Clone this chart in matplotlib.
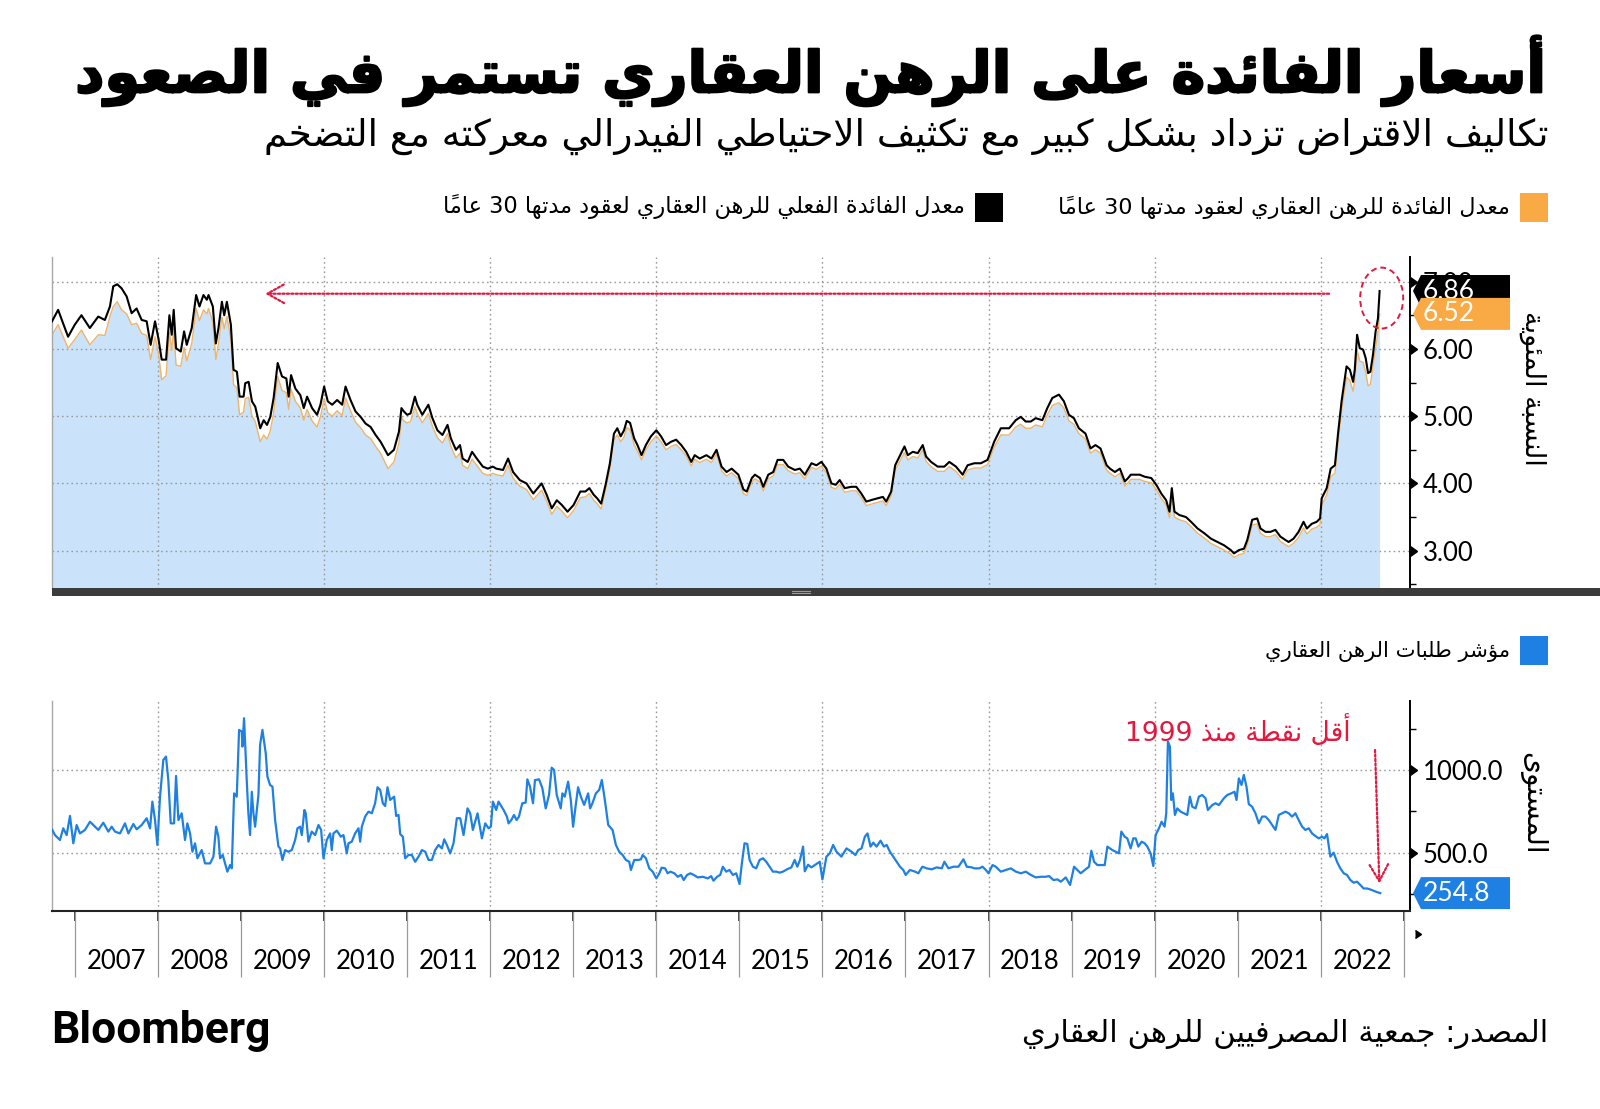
import matplotlib
matplotlib.use('Agg')
import matplotlib.pyplot as plt
import matplotlib.transforms as mtransforms
import matplotlib.patheffects as pe
from matplotlib.patches import Polygon, Rectangle, Ellipse
from matplotlib.ticker import FixedLocator, FormatStrFormatter

# ---------------- data ----------------
# MBA 30-year fixed mortgage rates, decimal year
rate_years = [
    2006.724, 2006.797, 2006.917, 2006.998, 2007.078, 2007.179, 2007.280, 2007.360, 2007.421, 2007.461,
    2007.509, 2007.561, 2007.622, 2007.682, 2007.742, 2007.803, 2007.863, 2007.911, 2007.964, 2008.004,
    2008.044, 2008.097, 2008.137, 2008.165, 2008.189, 2008.217, 2008.274, 2008.314, 2008.346, 2008.406,
    2008.459, 2008.499, 2008.547, 2008.588, 2008.608, 2008.660, 2008.696, 2008.728, 2008.769, 2008.797,
    2008.829, 2008.877, 2008.909, 2008.950, 2008.982, 2009.030, 2009.050, 2009.091, 2009.131, 2009.171,
    2009.231, 2009.272, 2009.312, 2009.352, 2009.392, 2009.441, 2009.493, 2009.545, 2009.573, 2009.602,
    2009.654, 2009.714, 2009.755, 2009.795, 2009.855, 2009.915, 2009.956, 2010.000, 2010.044, 2010.097,
    2010.157, 2010.217, 2010.258, 2010.318, 2010.378, 2010.439, 2010.499, 2010.559, 2010.620, 2010.680,
    2010.769, 2010.841, 2010.901, 2010.931, 2010.960, 2011.000, 2011.040, 2011.093, 2011.121, 2011.182,
    2011.255, 2011.304, 2011.364, 2011.425, 2011.486, 2011.526, 2011.587, 2011.636, 2011.668, 2011.729,
    2011.781, 2011.838, 2011.911, 2011.972, 2012.032, 2012.073, 2012.154, 2012.215, 2012.275, 2012.356,
    2012.437, 2012.518, 2012.619, 2012.680, 2012.741, 2012.802, 2012.862, 2012.931, 2013.004, 2013.085,
    2013.146, 2013.194, 2013.247, 2013.287, 2013.336, 2013.389, 2013.441, 2013.490, 2013.530, 2013.571,
    2013.611, 2013.644, 2013.684, 2013.733, 2013.773, 2013.822, 2013.874, 2013.935, 2014.000, 2014.057,
    2014.117, 2014.178, 2014.239, 2014.300, 2014.360, 2014.421, 2014.462, 2014.522, 2014.603, 2014.664,
    2014.725, 2014.785, 2014.846, 2014.907, 2014.988, 2015.049, 2015.089, 2015.150, 2015.188, 2015.248,
    2015.288, 2015.348, 2015.408, 2015.460, 2015.528, 2015.588, 2015.668, 2015.728, 2015.788, 2015.868,
    2015.928, 2015.988, 2016.048, 2016.108, 2016.160, 2016.208, 2016.268, 2016.348, 2016.408, 2016.468,
    2016.528, 2016.608, 2016.668, 2016.728, 2016.768, 2016.828, 2016.876, 2016.928, 2016.988, 2017.028,
    2017.088, 2017.148, 2017.208, 2017.248, 2017.308, 2017.388, 2017.468, 2017.528, 2017.608, 2017.688,
    2017.748, 2017.828, 2017.908, 2017.988, 2018.068, 2018.148, 2018.248, 2018.328, 2018.388, 2018.448,
    2018.508, 2018.568, 2018.648, 2018.708, 2018.768, 2018.848, 2018.908, 2018.968, 2019.028, 2019.088,
    2019.168, 2019.228, 2019.288, 2019.348, 2019.422, 2019.462, 2019.522, 2019.582, 2019.641, 2019.681,
    2019.713, 2019.761, 2019.821, 2019.880, 2019.960, 2020.020, 2020.080, 2020.139, 2020.179, 2020.207,
    2020.239, 2020.299, 2020.378, 2020.438, 2020.518, 2020.598, 2020.677, 2020.757, 2020.837, 2020.916,
    2020.956, 2021.016, 2021.076, 2021.116, 2021.175, 2021.235, 2021.275, 2021.335, 2021.394, 2021.454,
    2021.514, 2021.574, 2021.614, 2021.673, 2021.733, 2021.793, 2021.833, 2021.892, 2021.952, 2021.992,
    2022.012, 2022.072, 2022.120, 2022.171, 2022.211, 2022.251, 2022.311, 2022.351, 2022.390, 2022.410,
    2022.438, 2022.470, 2022.510, 2022.542, 2022.570, 2022.598, 2022.629, 2022.661, 2022.689, 2022.709,
]
rate_effective = [
    6.41, 6.58, 6.18, 6.36, 6.50, 6.31, 6.48, 6.43, 6.63, 6.93,
    6.96, 6.90, 6.78, 6.53, 6.60, 6.43, 6.41, 6.06, 6.41, 6.16,
    5.84, 5.84, 6.50, 6.21, 6.58, 6.01, 5.96, 6.26, 6.06, 6.31,
    6.80, 6.63, 6.80, 6.73, 6.80, 6.63, 6.08, 6.31, 6.70, 6.50,
    6.70, 6.36, 5.69, 5.66, 5.29, 5.29, 5.49, 5.51, 5.22, 5.14,
    4.82, 4.94, 4.87, 4.99, 5.27, 5.79, 5.59, 5.56, 5.29, 5.61,
    5.41, 5.31, 5.12, 5.29, 5.12, 5.02, 5.17, 5.44, 5.22, 5.17,
    5.24, 5.17, 5.44, 5.24, 5.07, 4.99, 4.89, 4.84, 4.72, 4.62,
    4.42, 4.50, 4.77, 5.12, 5.07, 5.02, 5.04, 5.29, 5.17, 5.02,
    5.17, 4.97, 4.79, 4.72, 4.87, 4.67, 4.50, 4.57, 4.37, 4.32,
    4.47, 4.37, 4.25, 4.22, 4.25, 4.22, 4.20, 4.37, 4.17, 4.05,
    4.00, 3.85, 4.00, 3.83, 3.63, 3.75, 3.68, 3.58, 3.68, 3.88,
    3.88, 3.93, 3.83, 3.78, 3.70, 3.98, 4.30, 4.74, 4.82, 4.70,
    4.79, 4.93, 4.90, 4.67, 4.57, 4.42, 4.57, 4.70, 4.79, 4.70,
    4.57, 4.62, 4.65, 4.57, 4.47, 4.32, 4.42, 4.37, 4.42, 4.37,
    4.50, 4.25, 4.17, 4.22, 4.13, 3.91, 3.88, 4.08, 4.13, 4.08,
    3.95, 4.13, 4.17, 4.35, 4.35, 4.25, 4.20, 4.22, 4.13, 4.30,
    4.27, 4.32, 4.22, 4.00, 3.98, 4.05, 3.93, 3.95, 3.95, 3.85,
    3.73, 3.76, 3.78, 3.80, 3.73, 3.88, 4.27, 4.40, 4.55, 4.42,
    4.47, 4.45, 4.57, 4.40, 4.32, 4.25, 4.25, 4.32, 4.25, 4.13,
    4.27, 4.30, 4.30, 4.35, 4.62, 4.82, 4.82, 4.94, 4.99, 4.92,
    4.92, 4.97, 4.94, 5.12, 5.27, 5.32, 5.22, 5.02, 4.97, 4.82,
    4.74, 4.52, 4.57, 4.52, 4.27, 4.22, 4.17, 4.22, 4.03, 4.08,
    4.13, 4.13, 4.13, 4.10, 4.08, 3.98, 3.85, 3.75, 3.58, 3.93,
    3.58, 3.53, 3.50, 3.43, 3.33, 3.26, 3.18, 3.13, 3.08, 3.01,
    2.96, 3.01, 3.03, 3.16, 3.46, 3.48, 3.33, 3.28, 3.28, 3.31,
    3.21, 3.16, 3.13, 3.18, 3.28, 3.43, 3.33, 3.40, 3.43, 3.48,
    3.78, 3.93, 4.22, 4.27, 4.77, 5.22, 5.74, 5.69, 5.51, 5.69,
    6.21, 6.01, 5.99, 5.86, 5.64, 5.66, 5.91, 6.26, 6.45, 6.86,
]
rate_contract = [
    6.21, 6.36, 6.01, 6.14, 6.28, 6.06, 6.21, 6.20, 6.48, 6.63,
    6.70, 6.58, 6.52, 6.36, 6.38, 6.23, 6.20, 5.84, 6.18, 5.95,
    5.54, 5.60, 6.25, 5.98, 6.30, 5.76, 5.74, 6.02, 5.82, 6.08,
    6.60, 6.42, 6.58, 6.52, 6.60, 6.40, 5.84, 6.08, 6.47, 6.30,
    6.48, 6.15, 5.47, 5.42, 5.02, 5.06, 5.26, 5.28, 5.00, 4.92,
    4.62, 4.72, 4.66, 4.78, 5.05, 5.59, 5.38, 5.35, 5.10, 5.40,
    5.22, 5.12, 4.94, 5.10, 4.93, 4.84, 4.99, 5.26, 5.05, 5.00,
    5.08, 5.01, 5.27, 5.08, 4.91, 4.83, 4.72, 4.67, 4.55, 4.45,
    4.22, 4.32, 4.60, 4.98, 4.93, 4.90, 4.92, 5.14, 5.04, 4.90,
    5.04, 4.85, 4.68, 4.60, 4.74, 4.55, 4.38, 4.45, 4.27, 4.22,
    4.36, 4.27, 4.15, 4.12, 4.15, 4.13, 4.11, 4.27, 4.08, 3.96,
    3.91, 3.76, 3.90, 3.74, 3.54, 3.66, 3.59, 3.49, 3.60, 3.79,
    3.80, 3.85, 3.75, 3.70, 3.62, 3.90, 4.22, 4.65, 4.72, 4.62,
    4.69, 4.83, 4.80, 4.58, 4.48, 4.35, 4.50, 4.62, 4.71, 4.62,
    4.50, 4.55, 4.58, 4.50, 4.41, 4.26, 4.36, 4.31, 4.36, 4.31,
    4.44, 4.19, 4.11, 4.16, 4.07, 3.85, 3.82, 4.02, 4.07, 4.02,
    3.89, 4.07, 4.11, 4.28, 4.28, 4.19, 4.14, 4.16, 4.07, 4.24,
    4.21, 4.26, 4.16, 3.94, 3.92, 3.99, 3.87, 3.89, 3.89, 3.79,
    3.67, 3.70, 3.72, 3.74, 3.67, 3.82, 4.20, 4.32, 4.46, 4.35,
    4.40, 4.38, 4.50, 4.33, 4.25, 4.18, 4.18, 4.25, 4.18, 4.06,
    4.20, 4.23, 4.23, 4.28, 4.54, 4.72, 4.72, 4.84, 4.88, 4.82,
    4.82, 4.87, 4.84, 5.02, 5.16, 5.20, 5.12, 4.93, 4.88, 4.74,
    4.66, 4.45, 4.50, 4.45, 4.20, 4.15, 4.10, 4.15, 3.96, 4.01,
    4.06, 4.06, 4.06, 4.03, 4.01, 3.91, 3.78, 3.68, 3.49, 3.82,
    3.50, 3.46, 3.43, 3.36, 3.26, 3.19, 3.11, 3.06, 3.01, 2.95,
    2.90, 2.94, 2.96, 3.09, 3.38, 3.40, 3.26, 3.21, 3.21, 3.24,
    3.14, 3.09, 3.06, 3.11, 3.20, 3.34, 3.25, 3.32, 3.35, 3.39,
    3.68, 3.83, 4.10, 4.15, 4.63, 5.08, 5.58, 5.53, 5.37, 5.53,
    5.98, 5.82, 5.80, 5.65, 5.45, 5.47, 5.74, 6.02, 6.25, 6.52,
]

# MBA mortgage applications composite index
app_years = [
    2006.727, 2006.759, 2006.819, 2006.859, 2006.900, 2006.940, 2006.980, 2007.020, 2007.060, 2007.120,
    2007.181, 2007.241, 2007.281, 2007.341, 2007.402, 2007.442, 2007.482, 2007.542, 2007.602, 2007.643,
    2007.703, 2007.743, 2007.803, 2007.863, 2007.904, 2007.932, 2007.964, 2007.992, 2008.024, 2008.064,
    2008.096, 2008.124, 2008.153, 2008.193, 2008.217, 2008.245, 2008.285, 2008.325, 2008.353, 2008.386,
    2008.414, 2008.446, 2008.474, 2008.526, 2008.566, 2008.627, 2008.667, 2008.699, 2008.727, 2008.747,
    2008.779, 2008.807, 2008.835, 2008.867, 2008.888, 2008.916, 2008.948, 2008.976, 2009.008, 2009.016,
    2009.036, 2009.068, 2009.088, 2009.108, 2009.129, 2009.149, 2009.169, 2009.209, 2009.229, 2009.257,
    2009.277, 2009.297, 2009.317, 2009.349, 2009.378, 2009.410, 2009.450, 2009.470, 2009.498, 2009.530,
    2009.570, 2009.610, 2009.651, 2009.679, 2009.711, 2009.731, 2009.763, 2009.779, 2009.811, 2009.851,
    2009.892, 2009.932, 2009.964, 2009.992, 2010.032, 2010.072, 2010.092, 2010.112, 2010.153, 2010.201,
    2010.233, 2010.273, 2010.293, 2010.333, 2010.373, 2010.414, 2010.434, 2010.454, 2010.494, 2010.534,
    2010.574, 2010.614, 2010.643, 2010.675, 2010.707, 2010.735, 2010.763, 2010.795, 2010.843, 2010.867,
    2010.896, 2010.916, 2010.948, 2010.976, 2011.016, 2011.056, 2011.096, 2011.137, 2011.177, 2011.217,
    2011.257, 2011.297, 2011.337, 2011.378, 2011.418, 2011.446, 2011.478, 2011.518, 2011.558, 2011.598,
    2011.639, 2011.679, 2011.727, 2011.759, 2011.791, 2011.847, 2011.900, 2011.940, 2011.980, 2012.008,
    2012.032, 2012.072, 2012.100, 2012.161, 2012.201, 2012.221, 2012.254, 2012.286, 2012.318, 2012.346,
    2012.386, 2012.427, 2012.447, 2012.479, 2012.515, 2012.539, 2012.588, 2012.628, 2012.668, 2012.708,
    2012.740, 2012.769, 2012.801, 2012.849, 2012.869, 2012.897, 2012.938, 2012.970, 2012.998, 2013.030,
    2013.058, 2013.091, 2013.131, 2013.179, 2013.203, 2013.231, 2013.272, 2013.312, 2013.344, 2013.380,
    2013.421, 2013.473, 2013.513, 2013.553, 2013.594, 2013.634, 2013.674, 2013.694, 2013.734, 2013.783,
    2013.815, 2013.835, 2013.875, 2013.915, 2013.956, 2014.000, 2014.036, 2014.064, 2014.105, 2014.137,
    2014.169, 2014.217, 2014.258, 2014.298, 2014.330, 2014.370, 2014.410, 2014.451, 2014.499, 2014.559,
    2014.620, 2014.660, 2014.688, 2014.732, 2014.769, 2014.801, 2014.841, 2014.881, 2014.922, 2014.962,
    2015.002, 2015.030, 2015.062, 2015.095, 2015.123, 2015.163, 2015.203, 2015.243, 2015.284, 2015.324,
    2015.364, 2015.404, 2015.445, 2015.485, 2015.525, 2015.573, 2015.626, 2015.666, 2015.698, 2015.730,
    2015.767, 2015.787, 2015.827, 2015.867, 2015.915, 2015.968, 2016.000, 2016.048, 2016.089, 2016.129,
    2016.169, 2016.229, 2016.290, 2016.350, 2016.398, 2016.431, 2016.471, 2016.511, 2016.543, 2016.579,
    2016.612, 2016.652, 2016.700, 2016.740, 2016.773, 2016.813, 2016.853, 2016.893, 2016.934, 2016.974,
    2017.002, 2017.054, 2017.115, 2017.155, 2017.203, 2017.256, 2017.316, 2017.376, 2017.437, 2017.469,
    2017.517, 2017.577, 2017.638, 2017.698, 2017.738, 2017.799, 2017.828, 2017.888, 2017.928, 2017.968,
    2018.000, 2018.048, 2018.088, 2018.148, 2018.208, 2018.269, 2018.329, 2018.389, 2018.449, 2018.509,
    2018.569, 2018.629, 2018.689, 2018.729, 2018.782, 2018.830, 2018.870, 2018.930, 2018.982, 2019.030,
    2019.070, 2019.110, 2019.158, 2019.210, 2019.238, 2019.271, 2019.311, 2019.371, 2019.399, 2019.431,
    2019.491, 2019.531, 2019.571, 2019.599, 2019.639, 2019.671, 2019.711, 2019.743, 2019.772, 2019.804,
    2019.844, 2019.880, 2019.912, 2019.952, 2019.984, 2020.012, 2020.052, 2020.084, 2020.120, 2020.140,
    2020.160, 2020.184, 2020.200, 2020.220, 2020.244, 2020.273, 2020.313, 2020.353, 2020.393, 2020.425,
    2020.453, 2020.493, 2020.533, 2020.573, 2020.613, 2020.641, 2020.693, 2020.733, 2020.774, 2020.834,
    2020.874, 2020.922, 2020.962, 2020.986, 2021.014, 2021.046, 2021.074, 2021.106, 2021.134, 2021.174,
    2021.214, 2021.255, 2021.295, 2021.335, 2021.375, 2021.415, 2021.455, 2021.495, 2021.535, 2021.575,
    2021.615, 2021.655, 2021.695, 2021.735, 2021.776, 2021.816, 2021.856, 2021.896, 2021.936, 2021.976,
    2022.016, 2022.044, 2022.076, 2022.116, 2022.156, 2022.196, 2022.236, 2022.277, 2022.317, 2022.357,
    2022.397, 2022.437, 2022.477, 2022.517, 2022.557, 2022.597, 2022.637, 2022.677, 2022.717,
]
app_index = [
    638, 607, 577, 648, 607, 723, 557, 668, 617, 638,
    688, 658, 638, 682, 628, 658, 628, 617, 678, 617,
    674, 642, 668, 709, 648, 810, 698, 547, 840, 1063,
    1083, 941, 678, 678, 966, 698, 739, 577, 678, 617,
    506, 557, 466, 516, 435, 435, 476, 658, 597, 466,
    486, 435, 385, 425, 405, 860, 840, 1245, 1235, 1144,
    1316, 941, 739, 607, 870, 739, 658, 850, 1154, 1245,
    1174, 1103, 962, 911, 901, 698, 537, 526, 456, 516,
    506, 516, 577, 648, 658, 607, 759, 739, 567, 628,
    607, 668, 638, 466, 577, 617, 516, 617, 634, 597,
    607, 496, 557, 567, 617, 648, 567, 658, 719, 749,
    739, 800, 897, 881, 800, 783, 897, 820, 840, 723,
    729, 613, 597, 466, 486, 486, 445, 476, 516, 506,
    456, 456, 516, 547, 526, 581, 547, 496, 557, 709,
    709, 607, 769, 739, 638, 739, 587, 678, 648, 658,
    810, 759, 810, 759, 719, 678, 698, 729, 698, 719,
    800, 804, 945, 901, 800, 941, 945, 891, 769, 850,
    1016, 1002, 850, 769, 860, 840, 931, 820, 658, 790,
    897, 840, 790, 860, 769, 800, 860, 881, 941, 820,
    668, 638, 547, 506, 486, 456, 445, 395, 456, 456,
    460, 486, 466, 405, 385, 344, 375, 409, 405, 375,
    385, 375, 354, 365, 334, 365, 375, 365, 350, 354,
    344, 358, 330, 354, 365, 415, 385, 395, 365, 375,
    310, 435, 557, 553, 456, 415, 405, 456, 466, 445,
    415, 385, 385, 379, 385, 399, 411, 456, 415, 456,
    537, 387, 427, 411, 427, 445, 338, 476, 496, 547,
    506, 476, 526, 506, 486, 516, 526, 597, 617, 537,
    561, 537, 573, 537, 547, 506, 476, 445, 415, 395,
    365, 395, 385, 375, 415, 405, 399, 411, 405, 445,
    405, 415, 415, 460, 415, 411, 405, 405, 415, 395,
    375, 425, 415, 385, 395, 405, 385, 375, 385, 365,
    350, 354, 354, 358, 334, 338, 324, 350, 304, 415,
    395, 375, 395, 415, 512, 445, 425, 425, 425, 537,
    516, 506, 496, 628, 597, 587, 526, 587, 587, 537,
    567, 557, 537, 496, 419, 607, 648, 688, 658, 739,
    1174, 1144, 820, 860, 729, 769, 749, 739, 729, 840,
    779, 769, 840, 850, 830, 759, 789, 800, 789, 830,
    850, 860, 870, 820, 951, 911, 972, 901, 795, 779,
    739, 678, 719, 719, 698, 668, 638, 729, 739, 749,
    739, 719, 739, 698, 658, 638, 648, 617, 601, 587,
    597, 587, 613, 476, 500, 445, 405, 375, 365, 334,
    318, 324, 304, 283, 283, 277, 269, 261, 254.8,
]

year_labels = list(range(2007, 2023))
rate_ticks = [3, 4, 5, 6, 7]
app_ticks = [500, 1000]
last_effective = '6.86'
last_contract = '6.52'
last_index = '254.8'

title = 'أسعار الفائدة على الرهن العقاري تستمر في الصعود'
subtitle = 'تكاليف الاقتراض تزداد بشكل كبير مع تكثيف الاحتياطي الفيدرالي معركته مع التضخم'
legend_contract = 'معدل الفائدة للرهن العقاري لعقود مدتها 30 عاماً'
legend_effective = 'معدل الفائدة الفعلي للرهن العقاري لعقود مدتها 30 عاماً'
legend_apps = 'مؤشر طلبات الرهن العقاري'
ylabel_rate = 'النسبة المئوية'
ylabel_apps = 'المستوى'
note_low = 'أقل نقطة منذ 1999'
source = 'المصدر: جمعية المصرفيين للرهن العقاري'

# ---------------- arabic shaping (matplotlib has no text shaping) ----------------
AR_FORMS = {
    'آ': (0xFE81, 0), 'أ': (0xFE83, 0), 'ؤ': (0xFE85, 0), 'إ': (0xFE87, 0), 'ئ': (0xFE89, 1),
    'ا': (0xFE8D, 0), 'ب': (0xFE8F, 1), 'ة': (0xFE93, 0), 'ت': (0xFE95, 1), 'ث': (0xFE99, 1),
    'ج': (0xFE9D, 1), 'ح': (0xFEA1, 1), 'خ': (0xFEA5, 1), 'د': (0xFEA9, 0), 'ذ': (0xFEAB, 0),
    'ر': (0xFEAD, 0), 'ز': (0xFEAF, 0), 'س': (0xFEB1, 1), 'ش': (0xFEB5, 1), 'ص': (0xFEB9, 1),
    'ض': (0xFEBD, 1), 'ط': (0xFEC1, 1), 'ظ': (0xFEC5, 1), 'ع': (0xFEC9, 1), 'غ': (0xFECD, 1),
    'ف': (0xFED1, 1), 'ق': (0xFED5, 1), 'ك': (0xFED9, 1), 'ل': (0xFEDD, 1), 'م': (0xFEE1, 1),
    'ن': (0xFEE5, 1), 'ه': (0xFEE9, 1), 'و': (0xFEED, 0), 'ى': (0xFEEF, 0), 'ي': (0xFEF1, 1),
}
LAM_ALEF = {'آ': 0xFEF5, 'أ': 0xFEF7, 'إ': 0xFEF9, 'ا': 0xFEFB}
AR_MARKS = set(chr(c) for c in range(0x064B, 0x0653))


def ar(text):
    toks = []
    i = 0
    while i < len(text):
        c = text[i]
        if c in AR_MARKS and toks:
            toks[-1][2] += c
        elif c == 'ل' and i + 1 < len(text) and text[i + 1] in LAM_ALEF:
            toks.append([LAM_ALEF[text[i + 1]], 0, ''])
            i += 1
        elif c in AR_FORMS:
            code, dual = AR_FORMS[c]
            toks.append([code, dual, ''])
        else:
            toks.append([c, None, ''])
        i += 1
    glyphs = []
    for k, (code, kind, marks) in enumerate(toks):
        if kind is None:
            glyphs.append(code + marks)
            continue
        jp = k > 0 and toks[k - 1][1] == 1
        jn = kind == 1 and k + 1 < len(toks) and toks[k + 1][1] is not None
        if kind == 1:
            off = 3 if (jp and jn) else 1 if jp else 2 if jn else 0
        else:
            off = 1 if jp else 0
        glyphs.append(chr(code + off) + marks)
    glyphs.reverse()
    out, run = [], []
    for g in glyphs:
        if g.isascii() and (g.isdigit() or g == '.'):
            run.append(g)
        else:
            out.extend(reversed(run))
            run = []
            out.append(g)
    out.extend(reversed(run))
    return ''.join(out)


# ---------------- figure ----------------
W, H = 1600, 1109
fig = plt.figure(figsize=(W / 100, H / 100), dpi=100)
fig.patch.set_facecolor('white')


def fx(x):
    return x / W


def fy(y):
    return 1 - y / H


C_FILL = '#cbe3fa'
C_ORANGE_LINE = '#eeb46a'
C_ORANGE = '#f9aa45'
C_BLUE = '#1f80e3'
C_RED = '#e2183f'
C_GRID = '#9a9a9a'
NUM_FONT = ['Lato', 'DejaVu Sans']
AR_FONT = ['DejaVu Sans']

X0, X1 = 2006.727, 2023.075

ax1 = fig.add_axes([fx(52.3), fy(589), fx(1410) - fx(52.3), fy(256.7) - fy(589)])
ax2 = fig.add_axes([fx(52.3), fy(911), fx(1410) - fx(52.3), fy(700.7) - fy(911)])

# --- top panel: mortgage rates
ax1.fill_between(rate_years, rate_contract, 0, color=C_FILL, lw=0, zorder=1)
ax1.plot(rate_years, rate_contract, color=C_ORANGE_LINE, lw=1.0, zorder=2)
ax1.plot(rate_years, rate_effective, color='black', lw=1.5, zorder=3)
ax1.set_xlim(X0, X1)
ax1.set_ylim(2.431, 7.37)

# --- bottom panel: applications
ax2.plot(app_years, app_index, color=C_BLUE, lw=1.6, zorder=3)
ax2.set_xlim(X0, X1)
ax2.set_ylim(146.2, 1422.3)

for ax in (ax1, ax2):
    ax.set_facecolor('white')
    ax.spines['top'].set_visible(False)
    ax.spines['left'].set_color('#a8a8a8')
    ax.spines['left'].set_linewidth(1.0)
    ax.spines['right'].set_color('black')
    ax.spines['right'].set_linewidth(1.4)
    ax.yaxis.tick_right()
    ax.tick_params(axis='y', which='major', direction='out', length=6, width=1,
                   pad=3, labelsize=18.5, colors='black')
    ax.tick_params(axis='y', which='minor', direction='out', length=4, width=1, colors='black')

ax1.spines['bottom'].set_visible(False)
ax2.spines['bottom'].set_color('#222222')
ax2.spines['bottom'].set_linewidth(1.5)

ax1.yaxis.set_major_locator(FixedLocator(rate_ticks))
ax1.yaxis.set_minor_locator(FixedLocator([2.5, 3.5, 4.5, 5.5, 6.5]))
ax1.yaxis.set_major_formatter(FormatStrFormatter('%.2f'))
ax1.set_xticks(list(range(2008, 2023, 2)))
ax1.tick_params(axis='x', length=0, labelbottom=False)

ax2.yaxis.set_major_locator(FixedLocator(app_ticks))
ax2.yaxis.set_minor_locator(FixedLocator([250, 750, 1250]))
ax2.yaxis.set_major_formatter(FormatStrFormatter('%.1f'))
ax2.xaxis.set_major_locator(FixedLocator(list(range(2008, 2023, 2))))
ax2.xaxis.set_minor_locator(FixedLocator(list(range(2007, 2024, 2))))
ax2.tick_params(axis='x', which='both', direction='out', length=7, width=1.2,
                colors='#222222', labelbottom=False)

for ax in (ax1, ax2):
    ax.grid(True, axis='both', which='major', color=C_GRID, linestyle=(0, (1.2, 2.2)), lw=1.0)
    for lab in ax.get_yticklabels():
        lab.set_family(NUM_FONT)
    for tk in ax.yaxis.get_major_ticks():
        tk.tick2line.set_marker(9)
        tk.tick2line.set_markersize(7)

# year row under the bottom panel
xt = ax2.get_xaxis_transform()
ax2.vlines(list(range(2007, 2024)), -0.314, 0, transform=xt, colors='#9a9a9a', lw=0.9, clip_on=False)
for yr in year_labels:
    ax2.text(yr + 0.5, -0.238, str(yr), transform=xt, ha='center', va='center',
             fontsize=18.5, family=NUM_FONT, color='black')
ax2.plot([1.004], [-0.109], marker=9, ms=6, color='black', transform=ax2.transAxes, clip_on=False)

# dark separator bar under the top panel
fig.patches.append(Rectangle((fx(52.3), fy(595.5)), fx(1600) - fx(52.3), fy(588.5) - fy(595.5),
                             transform=fig.transFigure, color='#3c3c3c', lw=0, zorder=5))
for yy in (590.6, 593.0):
    fig.lines.append(plt.Line2D([fx(792), fx(810)], [fy(yy), fy(yy)], transform=fig.transFigure,
                                color='#9a9a9a', lw=0.8, zorder=6))


# value tags on the right axis
def value_tag(ax, val, label, color, z):
    tr = mtransforms.Affine2D() + mtransforms.ScaledTranslation(1, val, ax.get_yaxis_transform())
    verts = [(3, 0), (11, 16), (100, 16), (100, -16), (11, -16)]
    ax.add_patch(Polygon(verts, closed=True, transform=tr, facecolor=color, edgecolor='none',
                         clip_on=False, zorder=z))
    ttr = mtransforms.offset_copy(ax.get_yaxis_transform(), fig=fig, x=13, y=0, units='dots')
    ax.text(1, val, label, transform=ttr, ha='left', va='center', color='white',
            fontsize=19, family=NUM_FONT, zorder=z + 0.1, clip_on=False)


value_tag(ax1, rate_effective[-1], last_effective, 'black', 6)
value_tag(ax1, rate_contract[-1], last_contract, C_ORANGE, 7)
value_tag(ax2, app_index[-1], last_index, C_BLUE, 6)

# annotations
arrow_kw = dict(arrowstyle='->,head_length=0.8,head_width=0.45', color=C_RED, lw=1.6,
                linestyle=(0, (1, 1)), shrinkA=0, shrinkB=0, mutation_scale=15)
ax1.annotate('', xy=(2009.29, 6.82), xytext=(2022.10, 6.82), arrowprops=arrow_kw, zorder=4)
ax1.add_patch(Ellipse((2022.734, 6.755), 0.518, 0.906, fill=False, edgecolor=C_RED, lw=1.4,
                      linestyle=(0, (3, 2)), clip_on=False, zorder=4))
ax2.annotate('', xy=(2022.706, 314), xytext=(2022.654, 1123), arrowprops=arrow_kw, zorder=4)

renderer = fig.canvas.get_renderer()


def fit(t, width):
    w = t.get_window_extent(renderer).width
    t.set_fontsize(t.get_fontsize() * width / w)


t = ax2.text(2021.004, 1238.5, ar(note_low), color=C_RED, ha='center', va='center',
             fontsize=20, family=AR_FONT)
fit(t, 226)

# titles
t = fig.text(fx(1548), fy(71), ar(title), ha='right', va='center', fontsize=40,
             fontweight='bold', family=AR_FONT, color='black')
fit(t, 1470)
t.set_path_effects([pe.withStroke(linewidth=1.6, foreground='black')])
t = fig.text(fx(1548), fy(136), ar(subtitle), ha='right', va='center', fontsize=26,
             family=AR_FONT, color='black')
fit(t, 1283)

# legends
fig.patches.append(Rectangle((fx(1520), fy(222)), fx(28), 29 / H, transform=fig.transFigure,
                             color=C_ORANGE, lw=0))
t = fig.text(fx(1510), fy(207), ar(legend_contract), ha='right', va='center', fontsize=15,
             family=AR_FONT)
fit(t, 454)
fig.patches.append(Rectangle((fx(975), fy(222)), fx(28), 29 / H, transform=fig.transFigure,
                             color='black', lw=0))
t = fig.text(fx(965), fy(207), ar(legend_effective), ha='right', va='center', fontsize=15,
             family=AR_FONT)
fit(t, 526)
fig.patches.append(Rectangle((fx(1520), fy(665)), fx(28), 29 / H, transform=fig.transFigure,
                             color=C_BLUE, lw=0))
t = fig.text(fx(1510), fy(651), ar(legend_apps), ha='right', va='center', fontsize=15,
             family=AR_FONT)
fit(t, 247)

# axis titles (rotated)
t = fig.text(fx(1533), fy(388), ar(ylabel_rate), ha='center', va='center', fontsize=18,
             family=AR_FONT)
fit(t, 155)
t.set_rotation(270)
t = fig.text(fx(1532), fy(803), ar(ylabel_apps), ha='center', va='center', fontsize=18,
             family=AR_FONT)
fit(t, 103)
t.set_rotation(270)

# footer
t = fig.text(fx(51), fy(1031), 'Bloomberg', ha='left', va='center', fontsize=30,
             fontweight='bold', family=['Roboto', 'DejaVu Sans'], color='black')
fit(t, 219)
t = fig.text(fx(1548), fy(1034), ar(source), ha='right', va='center', fontsize=20,
             family=AR_FONT)
fit(t, 525)

fig.savefig('out.png', dpi=100, facecolor='white')
